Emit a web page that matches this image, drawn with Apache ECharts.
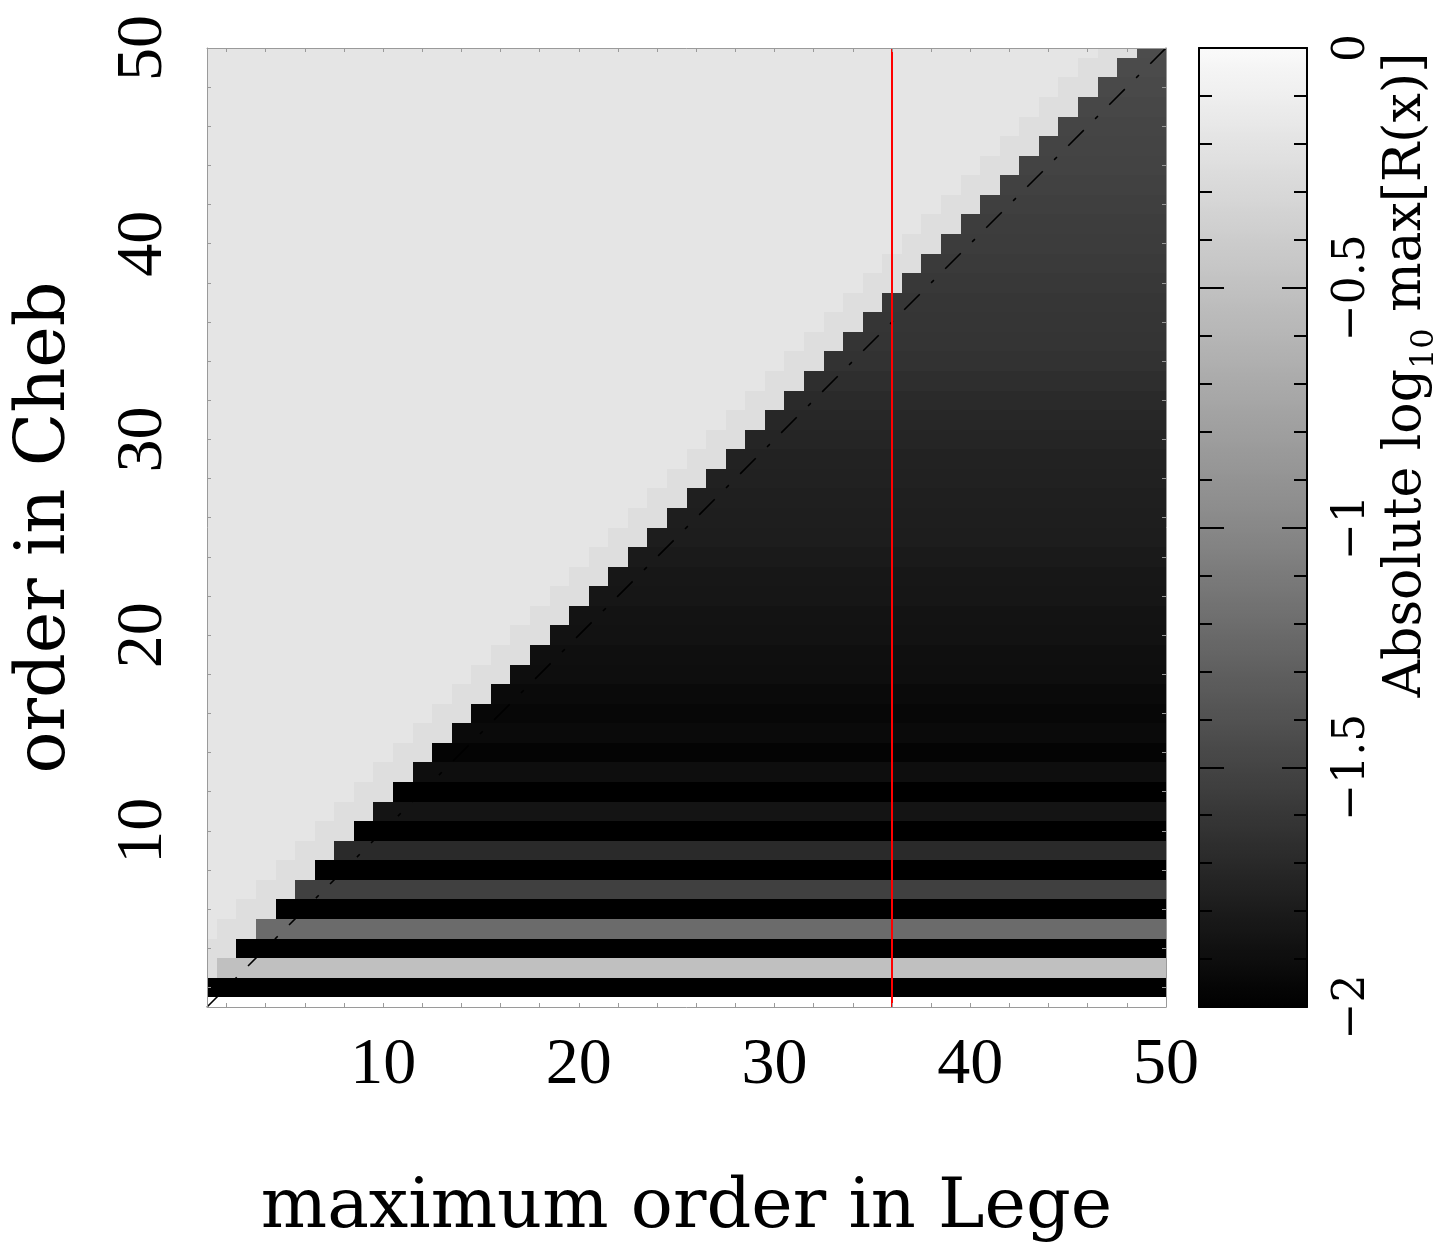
<!DOCTYPE html>
<html>
<head>
<meta charset="utf-8">
<script src="https://cdn.jsdelivr.net/npm/echarts@6/dist/echarts.min.js"></script>
<style>
html,body{margin:0;padding:0;background:#fff;}
#chart{width:1442px;height:1242px;}
</style>
</head>
<body>
<div id="chart"></div>
<script>
// ---- data ----
const legeOrders = [1,2,3,4,5,6,7,8,9,10,11,12,13,14,15,16,17,18,19,20,21,22,23,24,25,26,27,28,29,30,31,32,33,34,35,36,37,38,39,40,41,42,43,44,45,46,47,48,49,50];
const chebOrders = [1,2,3,4,5,6,7,8,9,10,11,12,13,14,15,16,17,18,19,20,21,22,23,24,25,26,27,28,29,30,31,32,33,34,35,36,37,38,39,40,41,42,43,44,45,46,47,48,49,50];
// log10 error in the region Lege order >= Cheb order - 1, one value per Cheb order (row 1 is empty)
const darkByRow = [null, -2, -0.51, -2, -1.21, -2, -1.53, -2, -1.69, -2,
  -1.85, -2, -1.9, -1.97, -1.93, -1.95, -1.93, -1.9, -1.89, -1.87,
  -1.86, -1.84, -1.83, -1.81, -1.79, -1.78, -1.77, -1.76, -1.75, -1.73,
  -1.71, -1.69, -1.66, -1.63, -1.62, -1.61, -1.6, -1.59, -1.57, -1.56,
  -1.55, -1.54, -1.52, -1.51, -1.5, -1.49, -1.48, -1.46, -1.45, -1.44];
const bandValue = -0.25;   // the two cells just left of the step
const upperValue = -0.18;  // the rest of the upper-left triangle
const markedLegeOrder = 36; // red vertical line
const xLabelTicks = [10,20,30,40,50];
const yLabelTicks = [10,20,30,40,50];
const minorTicks = [2,4,6,8,10,12,14,16,18,20,22,24,26,28,30,32,34,36,38,40,42,44,46,48,50];
const colorbarLabels = {'0':'0','-0.5':'\u22120.5','-1':'\u22121','-1.5':'\u22121.5','-2':'\u22122'};

// ---- build cell table ----
const cells = [];
chebOrders.forEach(function (y, yi) {
  const dark = darkByRow[yi];
  if (dark === null) return;
  legeOrders.forEach(function (x) {
    let v;
    if (x >= y - 1) v = dark;
    else if (x >= y - 3) v = bandValue;
    else v = upperValue;
    cells.push([x, y, v]);
  });
});

const chart = echarts.init(document.getElementById('chart'), null, {renderer: 'canvas'});

const G = {left: 207, top: 48, width: 959, height: 959};
const CB = {left: 1199, top: 48, width: 108, height: 959};
const grey = '#9a9a9a';
const tickFont = 'Liberation Serif';
const nameFont = 'DejaVu Serif';

function frameAxis(base) {
  return Object.assign({
    type: 'value', min: 1, max: 50, gridIndex: 0, z: 5,
    splitLine: {show: false},
    axisLine: {show: true, onZero: false, lineStyle: {color: grey, width: 1}},
    axisTick: {show: true, inside: true, length: 4, customValues: minorTicks, lineStyle: {color: grey, width: 1}},
    axisLabel: {show: false}
  }, base);
}

const option = {
  animation: false,
  backgroundColor: '#fff',
  grid: [
    {left: G.left, top: G.top, width: G.width, height: G.height, containLabel: false, outerBoundsMode: 'none'},
    {left: CB.left, top: CB.top, width: CB.width, height: CB.height, containLabel: false, outerBoundsMode: 'none'}
  ],
  xAxis: [
    frameAxis({position: 'bottom',
      axisLabel: {show: true, customValues: xLabelTicks, fontSize: 66, fontFamily: tickFont, color: '#000', margin: 26},
      name: 'maximum order in Lege', nameLocation: 'middle', nameGap: 167,
      nameTextStyle: {fontSize: 70, fontFamily: nameFont, color: '#000'}
    }),
    frameAxis({position: 'top'}),
    {type: 'value', gridIndex: 1, min: 0, max: 1, position: 'bottom', z: 10,
      splitLine: {show: false}, axisTick: {show: false}, axisLabel: {show: false},
      axisLine: {show: true, onZero: false, lineStyle: {color: '#000', width: 2}}},
    {type: 'value', gridIndex: 1, min: 0, max: 1, position: 'top', z: 10,
      splitLine: {show: false}, axisTick: {show: false}, axisLabel: {show: false},
      axisLine: {show: true, onZero: false, lineStyle: {color: '#000', width: 2}}}
  ],
  yAxis: [
    frameAxis({position: 'left',
      axisLabel: {show: true, customValues: yLabelTicks, rotate: 90, fontSize: 66, fontFamily: tickFont, color: '#000', margin: 30},
      name: 'order in Cheb', nameLocation: 'middle', nameGap: 126,
      nameTextStyle: {fontSize: 70, fontFamily: nameFont, color: '#000'}
    }),
    frameAxis({position: 'right'}),
    {type: 'value', gridIndex: 1, min: -2, max: 0, interval: 0.5, position: 'right', z: 10,
      splitLine: {show: false},
      axisLine: {show: true, onZero: false, lineStyle: {color: '#000', width: 2}},
      axisTick: {show: true, inside: true, length: 25, lineStyle: {color: '#000', width: 2}},
      minorTick: {show: true, splitNumber: 5, length: 13, lineStyle: {color: '#000', width: 2}},
      axisLabel: {show: true, rotate: 90, fontSize: 44, fontFamily: nameFont, color: '#000', margin: 24,
        formatter: function (v) { return colorbarLabels[String(v)] || String(v); }}
    },
    {type: 'value', gridIndex: 1, min: -2, max: 0, interval: 0.5, position: 'left', z: 10,
      splitLine: {show: false},
      axisLine: {show: true, onZero: false, lineStyle: {color: '#000', width: 2}},
      axisTick: {show: true, inside: true, length: 25, lineStyle: {color: '#000', width: 2}},
      minorTick: {show: true, splitNumber: 5, length: 13, lineStyle: {color: '#000', width: 2}},
      axisLabel: {show: false}
    }
  ],
  visualMap: {
    type: 'continuous', min: -2, max: 0, dimension: 2, seriesIndex: 0,
    calculable: false, hoverLink: false, realtime: false,
    left: CB.left, top: CB.top, itemWidth: CB.width, itemHeight: CB.height,
    padding: 0, text: null, orient: 'vertical',
    inRange: {color: ['#000000', '#888888', '#fafafa']}
  },
  graphic: [{
    type: 'text', x: 1406, y: 375, rotation: Math.PI / 2, z: 100,
    style: {
      text: '{a|Absolute log}{s|10}{a| max[R(x)]}',
      align: 'center', verticalAlign: 'middle',
      rich: {
        a: {fontSize: 52, fontFamily: nameFont, fill: '#000', lineHeight: 70},
        s: {fontSize: 32, fontFamily: nameFont, fill: '#000', lineHeight: 70, verticalAlign: 'bottom'}
      }
    }
  }],
  series: [
    {
      type: 'custom', xAxisIndex: 0, yAxisIndex: 0, data: cells,
      encode: {x: 0, y: 1},
      renderItem: function (params, api) {
        const x = api.value(0), y = api.value(1);
        const p0 = api.coord([x - 0.5, y + 0.5]);
        const p1 = api.coord([x + 0.5, y - 0.5]);
        const cs = params.coordSys;
        const r = echarts.graphic.clipRectByRect(
          {x: p0[0], y: p0[1], width: p1[0] - p0[0], height: p1[1] - p0[1]},
          {x: cs.x, y: cs.y, width: cs.width, height: cs.height});
        if (!r) return;
        const x0 = Math.round(r.x), y0 = Math.round(r.y);
        const x1 = Math.round(r.x + r.width), y1 = Math.round(r.y + r.height);
        const c = api.visual('color');
        return {type: 'rect', shape: {x: x0, y: y0, width: x1 - x0, height: y1 - y0},
          style: {fill: c, stroke: null}};
      }
    },
    {
      type: 'line', xAxisIndex: 0, yAxisIndex: 0, symbol: 'none', z: 3,
      data: [[legeOrders[0], chebOrders[0]], [legeOrders[legeOrders.length - 1], chebOrders[chebOrders.length - 1]]],
      lineStyle: {color: '#000', width: 1.6, type: [22, 16, 4, 16]}
    },
    {
      type: 'line', xAxisIndex: 0, yAxisIndex: 0, symbol: 'none', z: 4,
      data: [[markedLegeOrder, chebOrders[0]], [markedLegeOrder, chebOrders[chebOrders.length - 1]]],
      lineStyle: {color: '#ff0000', width: 2}
    }
  ]
};
chart.setOption(option);
</script>
</body>
</html>
